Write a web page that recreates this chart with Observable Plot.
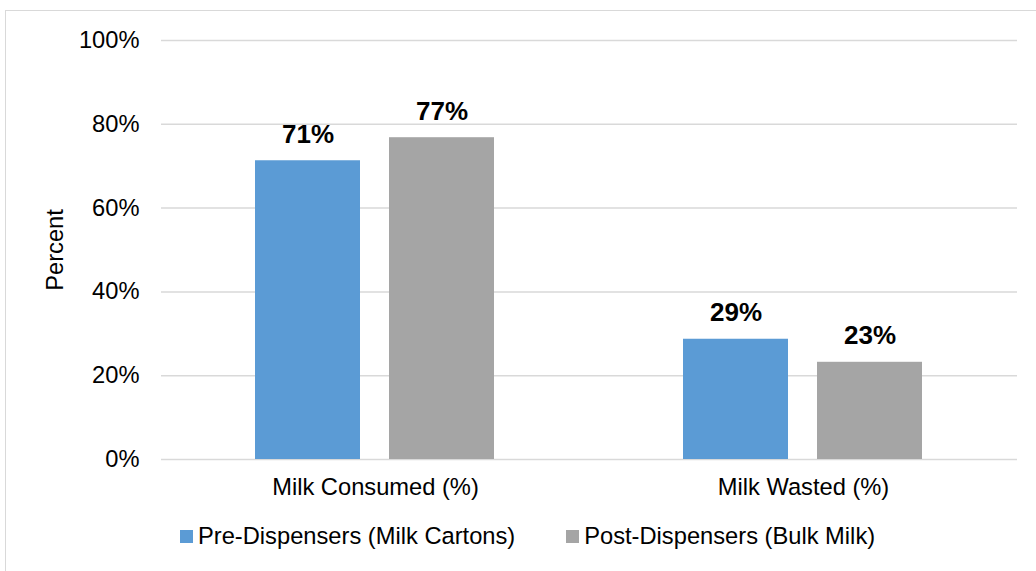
<!DOCTYPE html>
<html>
<head>
<meta charset="utf-8">
<script src="https://cdn.jsdelivr.net/npm/d3@7"></script>
<script src="https://cdn.jsdelivr.net/npm/@observablehq/plot@0.6"></script>
<style>
  html, body { margin: 0; padding: 0; background: #fff; }
  body { width: 1036px; height: 571px; overflow: hidden; position: relative; font-family: "Liberation Sans", Arial, sans-serif; }
  #frame { position: absolute; left: 5px; top: 10px; width: 1100px; height: 640px; border: 1.5px solid #d9d9d9; box-sizing: border-box; }
  #chart { position: absolute; left: 0; top: 0; }
  #legend { position: absolute; left: 180px; top: 525px; display: flex; align-items: center; font-size: 23.7px; line-height: 1; color: #000; white-space: nowrap; }
  .item { display: flex; align-items: center; }
  .swatch { width: 13px; height: 13px; margin-right: 5px; }
  .item + .item { margin-left: 51px; }
</style>
</head>
<body>
<div id="frame"></div>
<div id="chart"></div>
<div id="legend"></div>
<script>
const categories = ["Milk Consumed (%)", "Milk Wasted (%)"];
const seriesNames = ["Pre-Dispensers (Milk Cartons)", "Post-Dispensers (Bulk Milk)"];
const preValues = [71.3, 28.7];
const postValues = [76.8, 23.2];
const seriesColors = ["#5B9BD5", "#A5A5A5"];
const yTicks = [0, 20, 40, 60, 80, 100];

const rows = [];
categories.forEach((c, i) => {
  rows.push({category: c, series: seriesNames[0], value: preValues[i]});
  rows.push({category: c, series: seriesNames[1], value: postValues[i]});
});

const chart = Plot.plot({
  width: 1036,
  height: 510,
  marginTop: 40,
  marginLeft: 160,
  marginRight: 19,
  marginBottom: 51,
  style: {fontFamily: '"Liberation Sans", Arial, sans-serif', fontSize: "23.7px", color: "#000", background: "transparent", overflow: "visible"},
  fx: {domain: categories, padding: 0, label: null},
  x: {domain: seriesNames, paddingInner: 0.2148, paddingOuter: 0.6945, axis: null},
  y: {domain: [0, 100], axis: null},
  color: {domain: seriesNames, range: seriesColors},
  marks: [
    Plot.ruleY(yTicks, {stroke: "#d9d9d9", strokeWidth: 1.5}),
    Plot.barY(rows, {fx: "category", x: "series", y: "value", fill: "series"}),
    Plot.text(rows, {fx: "category", x: "series", y: "value", text: d => Math.round(d.value) + "%", dy: -18, lineAnchor: "bottom", fontWeight: "bold", fontSize: 26, fill: "#000"}),
    Plot.axisY({ticks: yTicks, tickFormat: d => d + "%", tickSize: 0, tickPadding: 22, fontSize: 23.7, label: "Percent", labelAnchor: "center", labelOffset: 115, labelArrow: "none"}),
    Plot.axisFx({anchor: "bottom", tickSize: 0, tickPadding: 19, fontSize: 23.7, label: null})
  ]
});
document.getElementById("chart").appendChild(chart);

const legend = document.getElementById("legend");
seriesNames.forEach((name, i) => {
  const item = document.createElement("div");
  item.className = "item";
  const sw = document.createElement("span");
  sw.className = "swatch";
  sw.style.background = seriesColors[i];
  const label = document.createElement("span");
  label.textContent = name;
  item.appendChild(sw);
  item.appendChild(label);
  legend.appendChild(item);
});
</script>
</body>
</html>
